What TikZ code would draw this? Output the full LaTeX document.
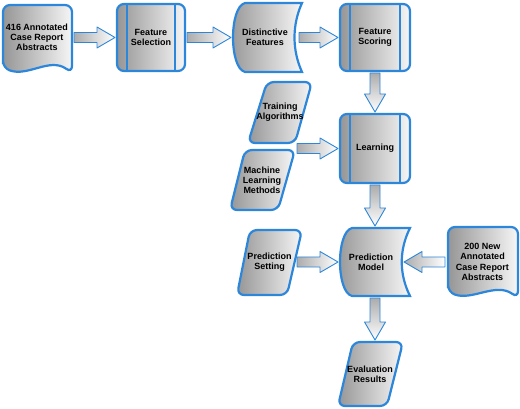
\documentclass[tikz,border=0pt]{standalone}
\usepackage{fontspec}
\setmainfont{Liberation Sans}
\usetikzlibrary{calc}
\definecolor{flowblue}{RGB}{44,134,218}
\definecolor{boxdark}{RGB}{150,150,150}
\definecolor{boxlight}{RGB}{246,246,246}
\tikzset{
	shapebox/.style	= {draw=flowblue, line width=2.2pt, rounded corners=7pt, left color=boxdark, right color=boxlight},
	boxtext/.style	= {font=\fontsize{9}{10.2}\selectfont\bfseries, text=black, align=center, inner sep=0pt, outer sep=2pt},
	procbox/.style	= {shapebox, boxtext, minimum width=68pt, minimum height=67pt,
		path picture={\draw[flowblue, line width=1.4pt]
			([xshift=10pt]path picture bounding box.north west) -- ([xshift=10pt]path picture bounding box.south west)
			([xshift=-10pt]path picture bounding box.north east) -- ([xshift=-10pt]path picture bounding box.south east);}},
	blockarr/.style	= {draw=flowblue, line width=0.9pt, line join=round,
		to path={($(\tikztostart)!5pt!90:(\tikztotarget)$)
			-- ($(\tikztotarget)!18pt!(\tikztostart)!5pt!90:(\tikztotarget)$)
			-- ($(\tikztotarget)!18pt!(\tikztostart)!10.5pt!90:(\tikztotarget)$)
			-- (\tikztotarget)
			-- ($(\tikztotarget)!18pt!(\tikztostart)!10.5pt!-90:(\tikztotarget)$)
			-- ($(\tikztotarget)!18pt!(\tikztostart)!5pt!-90:(\tikztotarget)$)
			-- ($(\tikztostart)!5pt!-90:(\tikztotarget)$) -- cycle}},
	harr/.style		= {blockarr, left color=gray!65, right color=white},
	varr/.style		= {blockarr, top color=gray!65, bottom color=white},
}
\begin{document}
\begin{tikzpicture}[x=1pt, y=-1pt]
	% Cadre
	\useasboundingbox	(0,0)	rectangle	(520,409);
	% Documents
	\path [shapebox]	(3,68) -- (3,5) -- (72,5) -- (72,73) .. controls (50,57) and (28,77) .. (3,68) -- cycle;
	\path [shapebox]	(448,292) -- (448,227) -- (518,227) -- (518,298) .. controls (496,282) and (472,301) .. (448,292) -- cycle;
	% Donnees stockees
	\path [shapebox, sharp corners]	(245,3) -- (302,3) .. controls (292,25) and (292,50) .. (302,72) -- (245,72) .. controls (229,68) and (229,7) .. (245,3) -- cycle;
	\path [shapebox, sharp corners]	(352,228) -- (410,228) .. controls (399,250) and (399,274) .. (410,296) -- (352,296) .. controls (336,292) and (336,232) .. (352,228) -- cycle;
	% Parallelogrammes
	\path [shapebox]	(267,82) -- (312,82) -- (295,143) -- (248,143) -- cycle;
	\path [shapebox]	(245,150) -- (295,150) -- (278,210) -- (230,210) -- cycle;
	\path [shapebox]	(250,230) -- (302,230) -- (287,295) -- (237,295) -- cycle;
	\path [shapebox]	(353,342) -- (403,342) -- (387,406) -- (338,406) -- cycle;
	% Boites
	\node [boxtext, minimum width=70pt, minimum height=63pt]	(abs416)	at (37,37.5)	{416 Annotated\\Case Report\\Abstracts};
	\node [procbox]												(fsel)		at (151,37.5)	{Feature\\Selection};
	\node [boxtext, minimum width=64pt, minimum height=69pt]	(dist)		at (265,37.5)	{Distinctive\\Features};
	\node [procbox, minimum width=70pt]							(fscore)	at (375,37.5)	{Feature\\Scoring};
	\node [boxtext, minimum width=50pt, minimum height=61pt]	(train)		at (280,112.5)	{Training\\Algorithms};
	\node [boxtext, minimum width=50pt, minimum height=60pt]	(mlm)		at (262,180)	{Machine\\Learning\\Methods};
	\node [procbox, minimum width=70pt, minimum height=69pt]		(learn)		at (375,148.5)	{Learning};
	\node [boxtext, minimum width=51pt, minimum height=65pt]	(pset)		at (269.5,262)	{Prediction\\Setting};
	\node [boxtext, minimum width=62pt, minimum height=68pt]	(pmodel)	at (371,262)	{Prediction\\Model};
	\node [boxtext, minimum width=71pt, minimum height=60pt]	(abs200)	at (482.5,262)	{200 New\\Annotated\\Case Report\\Abstracts};
	\node [boxtext, minimum width=50pt, minimum height=64pt]	(eval)		at (370,374)	{Evaluation\\Results};
	% Points d'accroche
	\coordinate	(mlin)		at (297,148.5);
	\coordinate	(learnin)	at (mlin -| learn.west);
	\coordinate	(pmtop)		at (learn.south |- pmodel.north);
	\coordinate	(pmbot)		at (learn.south |- pmodel.south);
	\coordinate	(evalin)	at (pmbot |- eval.north);
	% Fleches
	\path [harr]	(abs416.east)	to	(fsel.west);
	\path [harr]	(fsel.east)		to	(dist.west);
	\path [harr]	(dist.east)		to	(fscore.west);
	\path [varr]	(fscore.south)	to	(learn.north);
	\path [harr]	(mlin)			to	(learnin);
	\path [varr]	(learn.south)	to	(pmtop);
	\path [harr]	(pset.east)		to	(pmodel.west);
	\path [harr]	(abs200.west)	to	(pmodel.east);
	\path [varr]	(pmbot)			to	(evalin);
\end{tikzpicture}
\end{document}
